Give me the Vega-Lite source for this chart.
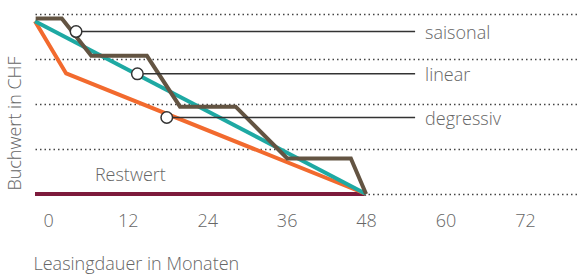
{
  "$schema": "https://vega.github.io/schema/vega-lite/v6.json",
  "width": 543,
  "height": 180,
  "autosize": {"type": "none"},
  "padding": {"left": 35, "top": 14, "right": 0, "bottom": 81},
  "config": {"view": {"stroke": null}, "font": "Open Sans"},
  "datasets": {
    "lines": [
      {"series": "degressiv", "m": -2, "v": 3.84},
      {"series": "degressiv", "m": 2.7, "v": 2.68},
      {"series": "degressiv", "m": 48, "v": 0},
      {"series": "linear", "m": -2, "v": 3.84},
      {"series": "linear", "m": 48, "v": 0},
      {"series": "saisonal", "m": -1.9, "v": 3.9},
      {"series": "saisonal", "m": 2.05, "v": 3.9},
      {"series": "saisonal", "m": 6.5, "v": 3.07},
      {"series": "saisonal", "m": 14.9, "v": 3.07},
      {"series": "saisonal", "m": 19.9, "v": 1.94},
      {"series": "saisonal", "m": 28.3, "v": 1.94},
      {"series": "saisonal", "m": 36.1, "v": 0.79},
      {"series": "saisonal", "m": 45.7, "v": 0.79},
      {"series": "saisonal", "m": 48, "v": 0}
    ],
    "rest": [
      {"m": -2, "v": 0},
      {"m": 48, "v": 0}
    ],
    "callouts": [
      {"label": "saisonal", "m": 4.2, "m2": 55.4, "v": 3.61},
      {"label": "linear", "m": 13.46, "m2": 55.4, "v": 2.67},
      {"label": "degressiv", "m": 17.9, "m2": 55.4, "v": 1.7}
    ],
    "restlabel": [
      {"label": "Restwert", "m": 12.4, "v": 0.3}
    ]
  },
  "encoding": {
    "x": {
      "field": "m",
      "type": "quantitative",
      "scale": {"domain": [-2, 80], "nice": false, "zero": false},
      "axis": {
        "values": [0, 12, 24, 36, 48, 60, 72],
        "grid": false,
        "domain": false,
        "ticks": false,
        "tickSize": 0,
        "labelPadding": 32,
        "labelBaseline": "alphabetic",
        "labelFontSize": 18,
        "labelFontWeight": 300,
        "labelColor": "#666666",
        "labelFlush": false,
        "labelOverlap": false,
        "title": "Leasingdauer in Monaten",
        "titleFontSize": 18,
        "titleFontWeight": 300,
        "titleColor": "#666666",
        "titleAnchor": "start",
        "titleAlign": "left",
        "titleBaseline": "alphabetic",
        "titleX": -2,
        "titleY": 75
      }
    },
    "y": {
      "field": "v",
      "type": "quantitative",
      "scale": {"domain": [0, 4], "nice": false, "zero": true},
      "axis": {
        "values": [0, 1, 2, 3, 4],
        "labels": false,
        "ticks": false,
        "domain": false,
        "grid": true,
        "gridDash": [1.5, 3],
        "gridColor": "#444444",
        "gridWidth": 1.5,
        "title": "Buchwert in CHF",
        "titleFontSize": 18,
        "titleFontWeight": 300,
        "titleColor": "#666666",
        "titleAngle": -90,
        "titleAlign": "center",
        "titleBaseline": "middle",
        "titleX": -20,
        "titleY": 109
      }
    }
  },
  "layer": [
    {
      "data": {"name": "rest"},
      "mark": {"type": "line", "color": "#7d1a3c", "strokeWidth": 4, "strokeCap": "butt"}
    },
    {
      "data": {"name": "lines"},
      "transform": [{"filter": "datum.series === 'degressiv'"}],
      "mark": {"type": "line", "color": "#f26a2e", "strokeWidth": 4, "strokeJoin": "miter"}
    },
    {
      "data": {"name": "lines"},
      "transform": [{"filter": "datum.series === 'linear'"}],
      "mark": {"type": "line", "color": "#1ea9a3", "strokeWidth": 4}
    },
    {
      "data": {"name": "lines"},
      "transform": [{"filter": "datum.series === 'saisonal'"}],
      "mark": {"type": "line", "color": "#635442", "strokeWidth": 4, "strokeJoin": "miter"}
    },
    {
      "data": {"name": "callouts"},
      "mark": {"type": "rule", "color": "#333333", "strokeWidth": 1.5},
      "encoding": {"x2": {"field": "m2"}}
    },
    {
      "data": {"name": "callouts"},
      "mark": {"type": "point", "shape": "circle", "filled": true, "fill": "#ffffff", "stroke": "#333333", "strokeWidth": 1.5, "size": 133, "opacity": 1}
    },
    {
      "data": {"name": "callouts"},
      "mark": {"type": "text", "align": "left", "baseline": "middle", "dx": 10, "dy": 2, "fontSize": 18, "fontWeight": 300, "color": "#666666"},
      "encoding": {"x": {"field": "m2", "type": "quantitative"}, "text": {"field": "label"}}
    },
    {
      "data": {"name": "restlabel"},
      "mark": {"type": "text", "align": "center", "baseline": "alphabetic", "fontSize": 18, "fontWeight": 300, "color": "#666666"},
      "encoding": {"text": {"field": "label"}}
    }
  ]
}
